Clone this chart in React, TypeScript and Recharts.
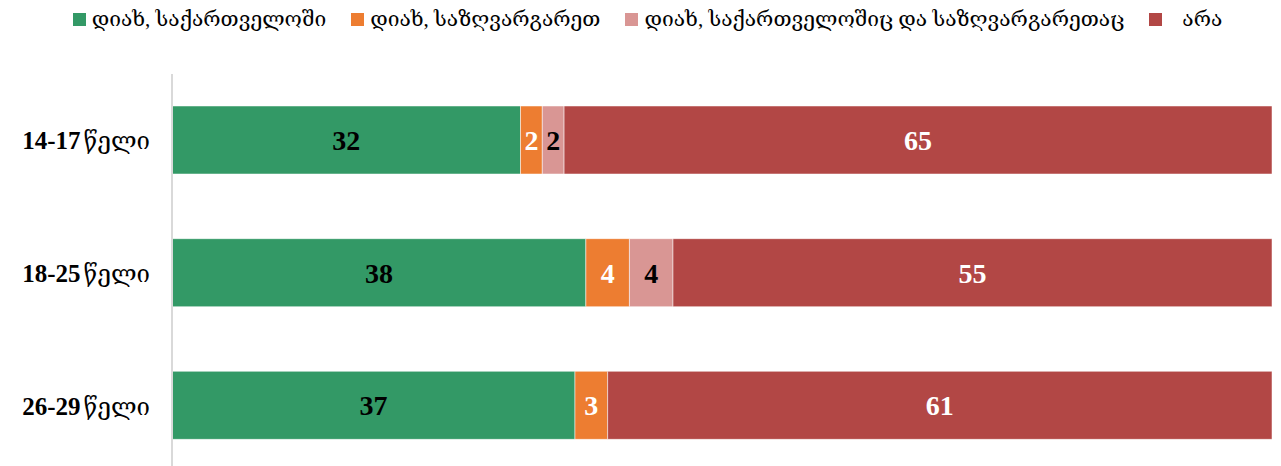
import { BarChart, Bar, XAxis, YAxis, LabelList } from "recharts";

const ageGroups = ["14-17 წელი", "18-25 წელი", "26-29 წელი"];
const inGeorgia = [32, 38, 37];
const abroad = [2, 4, 3];
const both = [2, 4, null];
const no = [65, 55, 61];

const SERIES = [
  { key: "inGeorgia", name: "დიახ, საქართველოში", color: "#339966", label: "#000" },
  { key: "abroad", name: "დიახ, საზღვარგარეთ", color: "#ED7D31", label: "#fff" },
  { key: "both", name: "დიახ, საქართველოშიც და საზღვარგარეთაც", color: "#D99694", label: "#000" },
  { key: "no", name: "არა", color: "#B24745", label: "#fff" },
];

const data = ageGroups.map((g, i) => ({
  group: g,
  inGeorgia: inGeorgia[i],
  abroad: abroad[i],
  both: both[i],
  no: no[i],
}));

const FONT = '"Liberation Serif", "DejaVu Serif", serif';

// digits bold, georgian word in regular weight so it fits like the original
function YTick(props: any) {
  const { x, y, payload } = props;
  const [range, word] = String(payload.value).split(" ");
  return (
    <text x={x - 14} y={y} dy={9} textAnchor="end" fill="#000" fontFamily={FONT}>
      <tspan fontSize={25} fontWeight="bold">{range}</tspan>
      <tspan fontSize={24} dx={3}>{word}</tspan>
    </text>
  );
}

export default function App() {
  return (
    <div style={{ margin: -8, position: "relative", width: 1281, height: 480, fontFamily: FONT }}>
      <div
        style={{
          position: "absolute",
          top: 7,
          left: 0,
          width: 1281,
          display: "flex",
          justifyContent: "center",
          gap: 25,
          fontSize: 21,
          paddingLeft: 14,
          boxSizing: "border-box",
        }}
      >
        {SERIES.map((s) => (
          <div key={s.key} style={{ display: "flex", alignItems: "center", gap: 6 }}>
            <span style={{ width: 13, height: 13, background: s.color, display: "inline-block", marginRight: s.key === "no" ? 14 : 0 }} />
            <span>{s.name}</span>
          </div>
        ))}
      </div>
      <BarChart
        width={1281}
        height={480}
        data={data}
        layout="vertical"
        margin={{ top: 74, right: 9, bottom: 8, left: 0 }}
      >
        <XAxis type="number" domain={[0, 101]} hide />
        <YAxis
          type="category"
          dataKey="group"
          width={172}
          axisLine={{ stroke: "#d9d9d9", strokeWidth: 2 }}
          tickLine={false}
          tick={<YTick />}
        />
        {SERIES.map((s) => (
          <Bar
            key={s.key}
            dataKey={s.key}
            name={s.name}
            stackId="a"
            fill={s.color}
            barSize={68}
            stroke="#fff"
            strokeWidth={0.5}
            isAnimationActive={false}
          >
            <LabelList
              dataKey={s.key}
              position="center"
              fill={s.label}
              fontSize={28}
              fontWeight="bold"
              fontFamily={FONT}
            />
          </Bar>
        ))}
      </BarChart>
    </div>
  );
}
